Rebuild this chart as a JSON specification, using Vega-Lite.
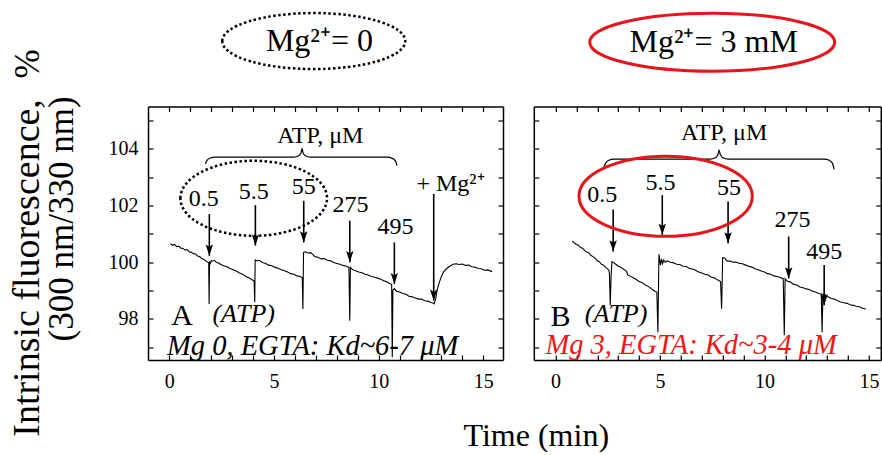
{
  "$schema": "https://vega.github.io/schema/vega-lite/v6.json",
  "autosize": {"type": "pad"},
  "padding": {"left": 9, "top": 6.5, "right": 0, "bottom": 0},
  "background": "white",
  "spacing": 30.8,
  "bounds": "flush",
  "config": {
    "view": {"stroke": null},
    "font": "Liberation Serif",
    "axis": {"domainColor": "black", "domainWidth": 1.5, "tickColor": "black", "tickWidth": 1.2, "tickSize": -5, "labelFont": "Liberation Serif", "labelFontSize": 20, "labelColor": "black", "grid": false, "title": null, "labelOverlap": false, "labelBound": false, "labelFlush": false},
    "text": {"font": "Liberation Serif", "color": "black"}
  },
  "datasets": {
    "traceA": [
      {"t":0.05,"f":100.66},{"t":0.15,"f":100.6},{"t":0.25,"f":100.63},{"t":0.35,"f":100.55},{"t":0.45,"f":100.57},{"t":0.55,"f":100.5},{"t":0.65,"f":100.49},{"t":0.75,"f":100.43},{"t":0.85,"f":100.45},{"t":0.95,"f":100.37},{"t":1.05,"f":100.35},{"t":1.15,"f":100.3},{"t":1.25,"f":100.3},{"t":1.35,"f":100.22},{"t":1.45,"f":100.2},{"t":1.55,"f":100.13},{"t":1.65,"f":100.1},{"t":1.75,"f":100.04},{"t":1.85,"f":100.0},{"t":1.88,"f":99.98},
      {"t":1.9,"f":98.53},{"t":1.92,"f":100.0},{"t":1.96,"f":99.95},{"t":2.0,"f":100.06},{"t":2.05,"f":100.04},{"t":2.15,"f":100.07},{"t":2.25,"f":99.99},{"t":2.35,"f":99.98},{"t":2.45,"f":99.92},{"t":2.6,"f":99.88},{"t":2.75,"f":99.84},{"t":2.9,"f":99.78},{"t":3.05,"f":99.74},{"t":3.2,"f":99.69},{"t":3.35,"f":99.62},{"t":3.5,"f":99.58},{"t":3.65,"f":99.5},{"t":3.8,"f":99.45},{"t":3.95,"f":99.38},{"t":4.05,"f":99.34},
      {"t":4.08,"f":98.59},{"t":4.1,"f":100.08},{"t":4.2,"f":100.05},{"t":4.3,"f":100.07},{"t":4.45,"f":99.99},{"t":4.6,"f":99.96},{"t":4.75,"f":99.9},{"t":4.9,"f":99.88},{"t":5.05,"f":99.82},{"t":5.2,"f":99.79},{"t":5.35,"f":99.74},{"t":5.5,"f":99.7},{"t":5.65,"f":99.66},{"t":5.8,"f":99.6},{"t":5.95,"f":99.58},{"t":6.1,"f":99.52},{"t":6.25,"f":99.5},{"t":6.35,"f":99.46},
      {"t":6.38,"f":98.35},{"t":6.41,"f":100.35},{"t":6.5,"f":100.37},{"t":6.6,"f":100.33},{"t":6.75,"f":100.34},{"t":6.85,"f":100.28},{"t":6.95,"f":100.2},{"t":7.1,"f":100.18},{"t":7.25,"f":100.12},{"t":7.4,"f":100.13},{"t":7.55,"f":100.07},{"t":7.7,"f":100.05},{"t":7.85,"f":99.99},{"t":8.0,"f":99.96},{"t":8.15,"f":99.93},{"t":8.3,"f":99.89},{"t":8.45,"f":99.86},{"t":8.58,"f":99.82},
      {"t":8.62,"f":97.94},{"t":8.65,"f":99.82},{"t":8.75,"f":99.74},{"t":8.9,"f":99.7},{"t":9.05,"f":99.66},{"t":9.2,"f":99.63},{"t":9.35,"f":99.58},{"t":9.5,"f":99.55},{"t":9.65,"f":99.5},{"t":9.8,"f":99.47},{"t":9.95,"f":99.44},{"t":10.1,"f":99.4},{"t":10.25,"f":99.35},{"t":10.4,"f":99.3},{"t":10.55,"f":99.24},{"t":10.62,"f":99.22},
      {"t":10.65,"f":96.65},{"t":10.68,"f":99.02},{"t":10.75,"f":99.07},{"t":10.85,"f":98.98},{"t":11.0,"f":98.95},{"t":11.15,"f":98.9},{"t":11.3,"f":98.87},{"t":11.45,"f":98.8},{"t":11.6,"f":98.78},{"t":11.75,"f":98.74},{"t":11.9,"f":98.7},{"t":12.05,"f":98.7},{"t":12.2,"f":98.64},{"t":12.35,"f":98.63},{"t":12.5,"f":98.58},{"t":12.6,"f":98.56},{"t":12.65,"f":98.53},
      {"t":12.72,"f":98.7},{"t":12.8,"f":99.05},{"t":12.9,"f":99.3},{"t":13.0,"f":99.5},{"t":13.1,"f":99.66},{"t":13.25,"f":99.78},{"t":13.4,"f":99.86},{"t":13.55,"f":99.93},{"t":13.7,"f":99.95},{"t":13.85,"f":99.92},{"t":14.0,"f":99.94},{"t":14.15,"f":99.89},{"t":14.3,"f":99.9},{"t":14.45,"f":99.84},{"t":14.6,"f":99.83},{"t":14.75,"f":99.78},{"t":14.9,"f":99.77},{"t":15.05,"f":99.72},{"t":15.2,"f":99.73},{"t":15.42,"f":99.67}
    ],
    "traceB": [
      {"t":0.8,"f":100.76},{"t":0.9,"f":100.68},{"t":1.0,"f":100.63},{"t":1.1,"f":100.6},{"t":1.2,"f":100.52},{"t":1.3,"f":100.5},{"t":1.4,"f":100.41},{"t":1.5,"f":100.36},{"t":1.6,"f":100.33},{"t":1.7,"f":100.24},{"t":1.8,"f":100.2},{"t":1.9,"f":100.14},{"t":2.0,"f":100.05},{"t":2.1,"f":100.02},{"t":2.2,"f":99.93},{"t":2.3,"f":99.9},{"t":2.4,"f":99.82},{"t":2.5,"f":99.76},{"t":2.55,"f":99.73},{"t":2.58,"f":99.6},
      {"t":2.62,"f":98.48},{"t":2.66,"f":99.5},{"t":2.7,"f":100.02},{"t":2.8,"f":99.98},{"t":2.9,"f":99.92},{"t":3.0,"f":99.86},{"t":3.1,"f":99.83},{"t":3.2,"f":99.78},{"t":3.3,"f":99.74},{"t":3.4,"f":99.68},{"t":3.45,"f":99.56},{"t":3.55,"f":99.52},{"t":3.7,"f":99.46},{"t":3.85,"f":99.4},{"t":4.0,"f":99.32},{"t":4.15,"f":99.28},{"t":4.3,"f":99.2},{"t":4.45,"f":99.14},{"t":4.6,"f":99.06},{"t":4.75,"f":98.98},{"t":4.85,"f":98.95},
      {"t":4.9,"f":97.53},{"t":4.95,"f":100.28},{"t":5.02,"f":99.9},{"t":5.07,"f":100.12},{"t":5.12,"f":99.95},{"t":5.18,"f":100.08},{"t":5.25,"f":100.0},{"t":5.35,"f":100.05},{"t":5.5,"f":100.0},{"t":5.65,"f":99.98},{"t":5.8,"f":99.93},{"t":5.95,"f":99.92},{"t":6.1,"f":99.86},{"t":6.25,"f":99.85},{"t":6.4,"f":99.79},{"t":6.55,"f":99.76},{"t":6.7,"f":99.72},{"t":6.85,"f":99.66},{"t":7.0,"f":99.62},{"t":7.15,"f":99.58},{"t":7.3,"f":99.55},{"t":7.45,"f":99.48},{"t":7.6,"f":99.45},{"t":7.75,"f":99.38},{"t":7.9,"f":99.32},
      {"t":7.95,"f":98.36},{"t":8.0,"f":100.16},{"t":8.1,"f":100.15},{"t":8.2,"f":100.05},{"t":8.35,"f":100.04},{"t":8.5,"f":100.0},{"t":8.65,"f":100.01},{"t":8.8,"f":99.96},{"t":8.95,"f":99.95},{"t":9.1,"f":99.9},{"t":9.25,"f":99.86},{"t":9.4,"f":99.83},{"t":9.55,"f":99.77},{"t":9.7,"f":99.74},{"t":9.85,"f":99.69},{"t":10.0,"f":99.66},{"t":10.15,"f":99.6},{"t":10.3,"f":99.58},{"t":10.45,"f":99.52},{"t":10.6,"f":99.5},{"t":10.75,"f":99.46},{"t":10.9,"f":99.42},
      {"t":10.95,"f":97.42},{"t":10.99,"f":99.42},{"t":11.1,"f":99.33},{"t":11.25,"f":99.3},{"t":11.4,"f":99.22},{"t":11.55,"f":99.2},{"t":11.7,"f":99.13},{"t":11.85,"f":99.1},{"t":12.0,"f":99.06},{"t":12.15,"f":99.04},{"t":12.3,"f":98.98},{"t":12.45,"f":98.95},{"t":12.6,"f":98.9},{"t":12.72,"f":98.88},
      {"t":12.76,"f":97.53},{"t":12.8,"f":98.9},{"t":12.86,"f":98.7},{"t":12.92,"f":98.85},{"t":13.05,"f":98.78},{"t":13.2,"f":98.72},{"t":13.35,"f":98.7},{"t":13.5,"f":98.64},{"t":13.65,"f":98.6},{"t":13.8,"f":98.57},{"t":13.95,"f":98.55},{"t":14.1,"f":98.5},{"t":14.25,"f":98.48},{"t":14.4,"f":98.45},{"t":14.55,"f":98.43},{"t":14.7,"f":98.38},{"t":14.85,"f":98.35}
    ],
    "arrowsA": [
      {"x":1.91,"y1":101.7,"y2":100.23},{"x":4.11,"y1":102.02,"y2":100.59},{"x":6.42,"y1":102.17,"y2":100.7},{"x":8.62,"y1":101.47,"y2":100.0},{"x":10.75,"y1":100.7,"y2":99.23},{"x":12.63,"y1":102.41,"y2":98.64}
    ],
    "arrowsB": [
      {"x":2.76,"y1":101.86,"y2":100.38},{"x":5.11,"y1":102.37,"y2":100.97},{"x":8.26,"y1":102.15,"y2":100.67},{"x":11.16,"y1":100.91,"y2":99.43},{"x":12.86,"y1":99.9,"y2":98.48}
    ],
    "braceA": [
      {"x":1.72,"y":103.47},{"x":1.8,"y":103.6},{"x":1.95,"y":103.68},{"x":2.2,"y":103.71},{"x":5.95,"y":103.71},{"x":6.18,"y":103.76},{"x":6.29,"y":103.86},{"x":6.34,"y":104.02},{"x":6.39,"y":103.86},{"x":6.5,"y":103.76},{"x":6.73,"y":103.71},{"x":10.4,"y":103.71},{"x":10.65,"y":103.67},{"x":10.8,"y":103.58},{"x":10.88,"y":103.41}
    ],
    "braceB": [
      {"x":2.31,"y":103.34},{"x":2.4,"y":103.5},{"x":2.55,"y":103.6},{"x":2.8,"y":103.64},{"x":7.4,"y":103.64},{"x":7.65,"y":103.69},{"x":7.77,"y":103.8},{"x":7.83,"y":103.96},{"x":7.89,"y":103.8},{"x":8.01,"y":103.69},{"x":8.26,"y":103.64},{"x":12.85,"y":103.64},{"x":13.1,"y":103.6},{"x":13.25,"y":103.5},{"x":13.34,"y":103.28}
    ],
    "labelsA": [
      {"x":1.64,"y":102.24,"label":"0.5"},{"x":4.03,"y":102.47,"label":"5.5"},{"x":6.42,"y":102.65,"label":"55"},{"x":8.65,"y":102.02,"label":"275"},{"x":10.8,"y":101.24,"label":"495"},{"x":13.43,"y":102.76,"label":"+ Mg²⁺"},{"x":7.21,"y":104.47,"label":"ATP, μM"}
    ],
    "labelsB": [
      {"x":2.24,"y":102.39,"label":"0.5"},{"x":5.03,"y":102.81,"label":"5.5"},{"x":8.3,"y":102.61,"label":"55"},{"x":11.34,"y":101.5,"label":"275"},{"x":12.86,"y":100.38,"label":"495"},{"x":8.07,"y":104.58,"label":"ATP, μM"}
    ],
    "bigA": [{"x":0.61,"y":98.11,"label":"A"}],
    "bigB": [{"x":0.24,"y":98.07,"label":"B"}],
    "atpA": [{"x":3.55,"y":98.17,"label":"(ATP)"}],
    "atpB": [{"x":2.9,"y":98.18,"label":"(ATP)"}],
    "noteA": [{"x":-0.11,"y":97.06,"label":"Mg 0, EGTA: Kd~6-7 μM"}],
    "noteB": [{"x":-0.48,"y":97.08,"label":"Mg 3, EGTA: Kd~3-4 μM"}],
    "ellA": [{"x":4.03,"y":102.26}],
    "ellB": [{"x":5.27,"y":102.33}],
    "topEllA": [{"x":6.9,"y":107.81}],
    "topEllB": [{"x":7.5,"y":107.77}],
    "topTextA": [{"x":7.17,"y":107.81,"label":"Mg²⁺= 0"}],
    "topTextB": [{"x":7.57,"y":107.77,"label":"Mg²⁺= 3 mM"}],
    "ytitle1": [{"x":-6.74,"y":105.76,"label":"Intrinsic fluorescence,"}],
    "ytitlePct": [{"x":-6.74,"y":107.0,"label":"%"}],
    "ytitle2": [{"x":-5.11,"y":101.53,"label":"(300 nm/330 nm)"}],
    "xtitle": [{"x":17.53,"y":93.87,"label":"Time (min)"}]
  },
  "hconcat": [
    {
      "width": 355,
      "height": 253.5,
      "resolve": {"axis": {"x": "independent", "y": "independent"}},
      "layer": [
        {
          "data": {"name": "traceA"},
          "mark": {"type": "line", "color": "black", "strokeWidth": 1.1},
          "encoding": {
            "x": {"field": "t", "type": "quantitative", "scale": {"domain": [-1.02, 15.94], "nice": false, "zero": false}, "axis": {"orient": "bottom", "values": [0,1,2,3,4,5,6,7,8,9,10,11,12,13,14,15], "labelExpr": "datum.value % 5 === 0 ? datum.label : ''", "labelPadding": 16}},
            "y": {"field": "f", "type": "quantitative", "scale": {"domain": [96.55, 105.5], "nice": false, "zero": false}, "axis": {"orient": "left", "values": [97,98,99,100,101,102,103,104,105], "labelExpr": "datum.value % 2 === 0 ? datum.label : ''", "labelPadding": 15}}
          }
        },
        {
          "data": {"name": "arrowsA"},
          "mark": {"type": "rule", "color": "black", "strokeWidth": 1.6},
          "encoding": {
            "x": {"field": "x", "type": "quantitative", "scale": {"domain": [-1.02, 15.94], "nice": false, "zero": false}, "axis": {"orient": "top", "labels": false, "values": [0,1,2,3,4,5,6,7,8,9,10,11,12,13,14,15]}},
            "y": {"field": "y1", "type": "quantitative", "scale": {"domain": [96.55, 105.5], "nice": false, "zero": false}, "axis": {"orient": "right", "labels": false, "values": [97,98,99,100,101,102,103,104,105]}},
            "y2": {"field": "y2"}
          }
        },
        {
          "data": {"name": "arrowsA"},
          "mark": {"type": "point", "shape": "M0,0L-0.33,-1L0,-0.8L0.33,-1Z", "filled": true, "color": "black", "opacity": 1, "size": 500},
          "encoding": {
            "x": {"field": "x", "type": "quantitative", "scale": {"domain": [-1.02, 15.94], "nice": false, "zero": false}, "axis": null},
            "y": {"field": "y2", "type": "quantitative", "scale": {"domain": [96.55, 105.5], "nice": false, "zero": false}, "axis": null}
          }
        },
        {
          "data": {"name": "braceA"},
          "mark": {"type": "line", "color": "black", "strokeWidth": 1.2, "interpolate": "monotone"},
          "encoding": {
            "x": {"field": "x", "type": "quantitative", "scale": {"domain": [-1.02, 15.94], "nice": false, "zero": false}, "axis": null},
            "y": {"field": "y", "type": "quantitative", "scale": {"domain": [96.55, 105.5], "nice": false, "zero": false}, "axis": null}
          }
        },
        {
          "data": {"name": "ellA"},
          "mark": {"type": "point", "shape": "M-1,0A1,0.511,0,1,1,1,0A1,0.511,0,1,1,-1,0Z", "filled": false, "stroke": "black", "strokeWidth": 2.5, "strokeDash": [2.5, 2.5], "opacity": 1, "size": 21521},
          "encoding": {
            "x": {"field": "x", "type": "quantitative", "scale": {"domain": [-1.02, 15.94], "nice": false, "zero": false}, "axis": null},
            "y": {"field": "y", "type": "quantitative", "scale": {"domain": [96.55, 105.5], "nice": false, "zero": false}, "axis": null}
          }
        },
        {
          "data": {"name": "topEllA"},
          "mark": {"type": "point", "shape": "M-1,0A1,0.306,0,1,1,1,0A1,0.306,0,1,1,-1,0Z", "filled": false, "stroke": "black", "strokeWidth": 2.5, "strokeDash": [2.5, 2.5], "opacity": 1, "size": 33489},
          "encoding": {
            "x": {"field": "x", "type": "quantitative", "scale": {"domain": [-1.02, 15.94], "nice": false, "zero": false}, "axis": null},
            "y": {"field": "y", "type": "quantitative", "scale": {"domain": [96.55, 105.5], "nice": false, "zero": false}, "axis": null}
          }
        },
        {
          "data": {"name": "labelsA"},
          "mark": {"type": "text", "font": "Liberation Serif, Times New Roman, serif", "fontSize": 24, "align": "center", "baseline": "middle"},
          "encoding": {
            "x": {"field": "x", "type": "quantitative", "scale": {"domain": [-1.02, 15.94], "nice": false, "zero": false}, "axis": null},
            "y": {"field": "y", "type": "quantitative", "scale": {"domain": [96.55, 105.5], "nice": false, "zero": false}, "axis": null},
            "text": {"field": "label"}
          }
        },
        {
          "data": {"name": "bigA"},
          "mark": {"type": "text", "font": "Liberation Serif, Times New Roman, serif", "fontSize": 30, "align": "center", "baseline": "middle"},
          "encoding": {
            "x": {"field": "x", "type": "quantitative", "scale": {"domain": [-1.02, 15.94], "nice": false, "zero": false}, "axis": null},
            "y": {"field": "y", "type": "quantitative", "scale": {"domain": [96.55, 105.5], "nice": false, "zero": false}, "axis": null},
            "text": {"field": "label"}
          }
        },
        {
          "data": {"name": "atpA"},
          "mark": {"type": "text", "font": "Liberation Serif, Times New Roman, serif", "fontSize": 26, "fontStyle": "italic", "align": "center", "baseline": "middle"},
          "encoding": {
            "x": {"field": "x", "type": "quantitative", "scale": {"domain": [-1.02, 15.94], "nice": false, "zero": false}, "axis": null},
            "y": {"field": "y", "type": "quantitative", "scale": {"domain": [96.55, 105.5], "nice": false, "zero": false}, "axis": null},
            "text": {"field": "label"}
          }
        },
        {
          "data": {"name": "noteA"},
          "mark": {"type": "text", "font": "Liberation Serif, Times New Roman, serif", "fontSize": 28.5, "fontStyle": "italic", "align": "left", "baseline": "middle"},
          "encoding": {
            "x": {"field": "x", "type": "quantitative", "scale": {"domain": [-1.02, 15.94], "nice": false, "zero": false}, "axis": null},
            "y": {"field": "y", "type": "quantitative", "scale": {"domain": [96.55, 105.5], "nice": false, "zero": false}, "axis": null},
            "text": {"field": "label"}
          }
        },
        {
          "data": {"name": "topTextA"},
          "mark": {"type": "text", "font": "Liberation Serif, Times New Roman, serif", "fontSize": 32, "align": "center", "baseline": "middle"},
          "encoding": {
            "x": {"field": "x", "type": "quantitative", "scale": {"domain": [-1.02, 15.94], "nice": false, "zero": false}, "axis": null},
            "y": {"field": "y", "type": "quantitative", "scale": {"domain": [96.55, 105.5], "nice": false, "zero": false}, "axis": null},
            "text": {"field": "label"}
          }
        },
        {
          "data": {"name": "ytitle1"},
          "mark": {"type": "text", "font": "Liberation Serif, Times New Roman, serif", "fontSize": 38, "angle": 270, "align": "right", "baseline": "middle"},
          "encoding": {
            "x": {"field": "x", "type": "quantitative", "scale": {"domain": [-1.02, 15.94], "nice": false, "zero": false}, "axis": null},
            "y": {"field": "y", "type": "quantitative", "scale": {"domain": [96.55, 105.5], "nice": false, "zero": false}, "axis": null},
            "text": {"field": "label"}
          }
        },
        {
          "data": {"name": "ytitlePct"},
          "mark": {"type": "text", "font": "Liberation Serif, Times New Roman, serif", "fontSize": 35, "angle": 270, "align": "center", "baseline": "middle"},
          "encoding": {
            "x": {"field": "x", "type": "quantitative", "scale": {"domain": [-1.02, 15.94], "nice": false, "zero": false}, "axis": null},
            "y": {"field": "y", "type": "quantitative", "scale": {"domain": [96.55, 105.5], "nice": false, "zero": false}, "axis": null},
            "text": {"field": "label"}
          }
        },
        {
          "data": {"name": "ytitle2"},
          "mark": {"type": "text", "font": "Liberation Serif, Times New Roman, serif", "fontSize": 35, "angle": 270, "align": "center", "baseline": "middle"},
          "encoding": {
            "x": {"field": "x", "type": "quantitative", "scale": {"domain": [-1.02, 15.94], "nice": false, "zero": false}, "axis": null},
            "y": {"field": "y", "type": "quantitative", "scale": {"domain": [96.55, 105.5], "nice": false, "zero": false}, "axis": null},
            "text": {"field": "label"}
          }
        },
        {
          "data": {"name": "xtitle"},
          "mark": {"type": "text", "font": "Liberation Serif, Times New Roman, serif", "fontSize": 32, "align": "center", "baseline": "middle"},
          "encoding": {
            "x": {"field": "x", "type": "quantitative", "scale": {"domain": [-1.02, 15.94], "nice": false, "zero": false}, "axis": null},
            "y": {"field": "y", "type": "quantitative", "scale": {"domain": [96.55, 105.5], "nice": false, "zero": false}, "axis": null},
            "text": {"field": "label"}
          }
        }
      ]
    },
    {
      "width": 347,
      "height": 253.5,
      "resolve": {"axis": {"x": "independent", "y": "independent"}},
      "layer": [
        {
          "data": {"name": "traceB"},
          "mark": {"type": "line", "color": "black", "strokeWidth": 1.1},
          "encoding": {
            "x": {"field": "t", "type": "quantitative", "scale": {"domain": [-1.04, 15.57], "nice": false, "zero": false}, "axis": {"orient": "bottom", "values": [0,1,2,3,4,5,6,7,8,9,10,11,12,13,14,15], "labelExpr": "datum.value % 5 === 0 ? datum.label : ''", "labelPadding": 16}},
            "y": {"field": "f", "type": "quantitative", "scale": {"domain": [96.55, 105.5], "nice": false, "zero": false}, "axis": {"orient": "left", "labels": false, "values": [97,98,99,100,101,102,103,104,105]}}
          }
        },
        {
          "data": {"name": "arrowsB"},
          "mark": {"type": "rule", "color": "black", "strokeWidth": 1.6},
          "encoding": {
            "x": {"field": "x", "type": "quantitative", "scale": {"domain": [-1.04, 15.57], "nice": false, "zero": false}, "axis": {"orient": "top", "labels": false, "values": [0,1,2,3,4,5,6,7,8,9,10,11,12,13,14,15]}},
            "y": {"field": "y1", "type": "quantitative", "scale": {"domain": [96.55, 105.5], "nice": false, "zero": false}, "axis": {"orient": "right", "labels": false, "values": [97,98,99,100,101,102,103,104,105]}},
            "y2": {"field": "y2"}
          }
        },
        {
          "data": {"name": "arrowsB"},
          "mark": {"type": "point", "shape": "M0,0L-0.33,-1L0,-0.8L0.33,-1Z", "filled": true, "color": "black", "opacity": 1, "size": 500},
          "encoding": {
            "x": {"field": "x", "type": "quantitative", "scale": {"domain": [-1.04, 15.57], "nice": false, "zero": false}, "axis": null},
            "y": {"field": "y2", "type": "quantitative", "scale": {"domain": [96.55, 105.5], "nice": false, "zero": false}, "axis": null}
          }
        },
        {
          "data": {"name": "braceB"},
          "mark": {"type": "line", "color": "black", "strokeWidth": 1.2, "interpolate": "monotone"},
          "encoding": {
            "x": {"field": "x", "type": "quantitative", "scale": {"domain": [-1.04, 15.57], "nice": false, "zero": false}, "axis": null},
            "y": {"field": "y", "type": "quantitative", "scale": {"domain": [96.55, 105.5], "nice": false, "zero": false}, "axis": null}
          }
        },
        {
          "data": {"name": "ellB"},
          "mark": {"type": "point", "shape": "M-1,0A1,0.462,0,1,1,1,0A1,0.462,0,1,1,-1,0Z", "filled": false, "stroke": "#e8141b", "strokeWidth": 3, "opacity": 1, "size": 30033},
          "encoding": {
            "x": {"field": "x", "type": "quantitative", "scale": {"domain": [-1.04, 15.57], "nice": false, "zero": false}, "axis": null},
            "y": {"field": "y", "type": "quantitative", "scale": {"domain": [96.55, 105.5], "nice": false, "zero": false}, "axis": null}
          }
        },
        {
          "data": {"name": "topEllB"},
          "mark": {"type": "point", "shape": "M-1,0A1,0.237,0,1,1,1,0A1,0.237,0,1,1,-1,0Z", "filled": false, "stroke": "#e8141b", "strokeWidth": 3, "opacity": 1, "size": 60025},
          "encoding": {
            "x": {"field": "x", "type": "quantitative", "scale": {"domain": [-1.04, 15.57], "nice": false, "zero": false}, "axis": null},
            "y": {"field": "y", "type": "quantitative", "scale": {"domain": [96.55, 105.5], "nice": false, "zero": false}, "axis": null}
          }
        },
        {
          "data": {"name": "labelsB"},
          "mark": {"type": "text", "font": "Liberation Serif, Times New Roman, serif", "fontSize": 24, "align": "center", "baseline": "middle"},
          "encoding": {
            "x": {"field": "x", "type": "quantitative", "scale": {"domain": [-1.04, 15.57], "nice": false, "zero": false}, "axis": null},
            "y": {"field": "y", "type": "quantitative", "scale": {"domain": [96.55, 105.5], "nice": false, "zero": false}, "axis": null},
            "text": {"field": "label"}
          }
        },
        {
          "data": {"name": "bigB"},
          "mark": {"type": "text", "font": "Liberation Serif, Times New Roman, serif", "fontSize": 30, "align": "center", "baseline": "middle"},
          "encoding": {
            "x": {"field": "x", "type": "quantitative", "scale": {"domain": [-1.04, 15.57], "nice": false, "zero": false}, "axis": null},
            "y": {"field": "y", "type": "quantitative", "scale": {"domain": [96.55, 105.5], "nice": false, "zero": false}, "axis": null},
            "text": {"field": "label"}
          }
        },
        {
          "data": {"name": "atpB"},
          "mark": {"type": "text", "font": "Liberation Serif, Times New Roman, serif", "fontSize": 26, "fontStyle": "italic", "align": "center", "baseline": "middle"},
          "encoding": {
            "x": {"field": "x", "type": "quantitative", "scale": {"domain": [-1.04, 15.57], "nice": false, "zero": false}, "axis": null},
            "y": {"field": "y", "type": "quantitative", "scale": {"domain": [96.55, 105.5], "nice": false, "zero": false}, "axis": null},
            "text": {"field": "label"}
          }
        },
        {
          "data": {"name": "noteB"},
          "mark": {"type": "text", "font": "Liberation Serif, Times New Roman, serif", "fontSize": 28.5, "fontStyle": "italic", "align": "left", "baseline": "middle", "color": "#f01414"},
          "encoding": {
            "x": {"field": "x", "type": "quantitative", "scale": {"domain": [-1.04, 15.57], "nice": false, "zero": false}, "axis": null},
            "y": {"field": "y", "type": "quantitative", "scale": {"domain": [96.55, 105.5], "nice": false, "zero": false}, "axis": null},
            "text": {"field": "label"}
          }
        },
        {
          "data": {"name": "topTextB"},
          "mark": {"type": "text", "font": "Liberation Serif, Times New Roman, serif", "fontSize": 32, "align": "center", "baseline": "middle"},
          "encoding": {
            "x": {"field": "x", "type": "quantitative", "scale": {"domain": [-1.04, 15.57], "nice": false, "zero": false}, "axis": null},
            "y": {"field": "y", "type": "quantitative", "scale": {"domain": [96.55, 105.5], "nice": false, "zero": false}, "axis": null},
            "text": {"field": "label"}
          }
        }
      ]
    }
  ]
}
